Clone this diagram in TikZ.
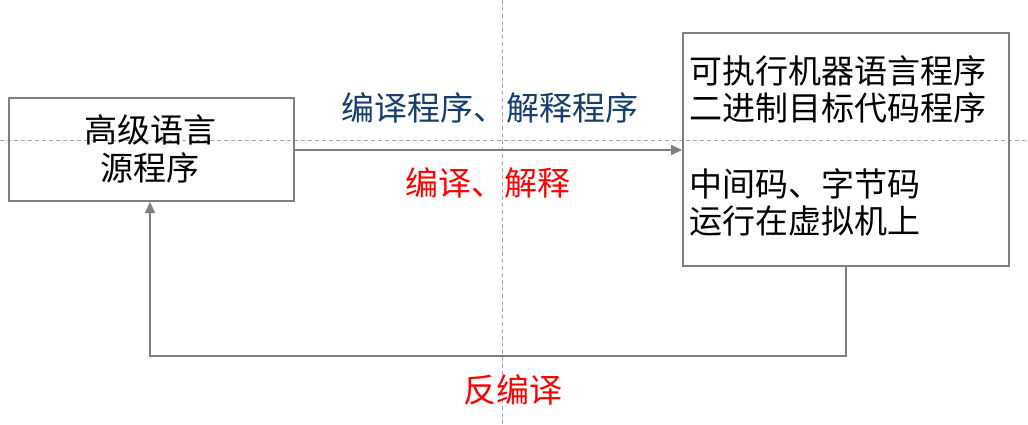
\documentclass[tikz,border=0pt]{standalone}
\usepackage{fontspec}
\setmainfont{Noto Sans CJK SC}
\usetikzlibrary{arrows.meta}
\definecolor{linegray}{HTML}{7F7F7F}
\definecolor{guidegray}{HTML}{A6A6A6}
\definecolor{darkblue}{HTML}{153D6E}
\definecolor{labelred}{HTML}{FF0000}
\begin{document}
\begin{tikzpicture}[x=1pt,y=-1pt,
  guide/.style={guidegray, line width=0.8pt, dash pattern=on 4pt off 3pt},
  boxstyle/.style={draw=linegray, line width=2pt, inner sep=0pt},
  conn/.style={draw=linegray, line width=2pt, -{Triangle[length=11pt,width=10pt]}},
  txt/.style={font=\fontsize{33}{37.5}\selectfont, inner sep=0pt},
]
\useasboundingbox (0,0) rectangle (1028,424);
% guide lines
\draw[guide] (0,140) -- (1028,140);
\draw[guide] (502,0) -- (502,424);
% boxes
\node[boxstyle, minimum width=285pt, minimum height=103pt, anchor=north west] (src) at (8,97) {};
\node[boxstyle, minimum width=326pt, minimum height=233pt, anchor=north west] (tgt) at (682,32) {};
% box texts
\node[txt, align=center] (srctext) at (150,149) {高级语言\\源程序};
\node[txt, align=left, anchor=west] (tgttext) at (689,146) {可执行机器语言程序\\二进制目标代码程序\\[38pt]中间码、字节码\\运行在虚拟机上};
% connectors
\draw[conn] (src.east |- 0,150) -- (tgt.west |- 0,150);
\coordinate (c1) at (846,356);
\coordinate (c2) at (150,356);
\draw[conn] (tgt.south -| c1) -- (c1) -- (c2) -- (src.south -| c2);
% labels
\node[txt, text=darkblue] (lab1) at (490,108) {编译程序、解释程序};
\node[txt, text=labelred] (lab2) at (488,183) {编译、解释};
\node[txt, text=labelred] (lab3) at (513,390) {反编译};
\end{tikzpicture}
\end{document}
